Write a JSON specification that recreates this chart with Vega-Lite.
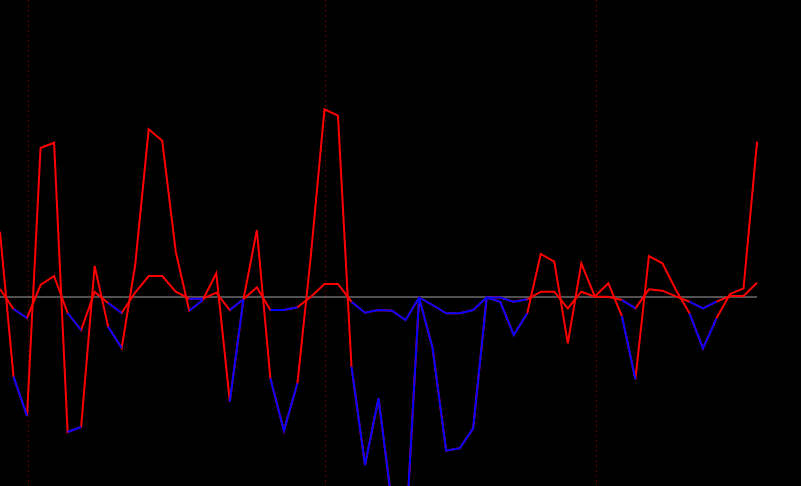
{
  "$schema": "https://vega.github.io/schema/vega-lite/v6.json",
  "width": 801,
  "height": 486,
  "padding": 0,
  "autosize": {"type": "none"},
  "background": "#000000",
  "config": {"view": {"stroke": null}},
  "datasets": {
    "d": [
      {"i":0,"s":"big","v":65.3,"n":null},{"i":1,"s":"big","v":-79.7,"n":-79.7},{"i":2,"s":"big","v":-119,"n":-119},{"i":3,"s":"big","v":149,"n":null},{"i":4,"s":"big","v":154.3,"n":null},
      {"i":5,"s":"big","v":-135,"n":-135},{"i":6,"s":"big","v":-130,"n":-130},{"i":7,"s":"big","v":31,"n":null},{"i":8,"s":"big","v":-29.7,"n":-29.7},{"i":9,"s":"big","v":-51,"n":-51},
      {"i":10,"s":"big","v":32,"n":null},{"i":11,"s":"big","v":167.7,"n":null},{"i":12,"s":"big","v":156.3,"n":null},{"i":13,"s":"big","v":45.3,"n":null},{"i":14,"s":"big","v":-13.7,"n":-13.7},
      {"i":15,"s":"big","v":-3,"n":-3},{"i":16,"s":"big","v":23.7,"n":null},{"i":17,"s":"big","v":-104.7,"n":-104.7},{"i":18,"s":"big","v":-3,"n":-3},{"i":19,"s":"big","v":67,"n":null},
      {"i":20,"s":"big","v":-81.3,"n":-81.3},{"i":21,"s":"big","v":-133.7,"n":-133.7},{"i":22,"s":"big","v":-86.3,"n":-86.3},{"i":23,"s":"big","v":42,"n":null},{"i":24,"s":"big","v":187.7,"n":null},
      {"i":25,"s":"big","v":181.3,"n":null},{"i":26,"s":"big","v":-69.7,"n":-69.7},{"i":27,"s":"big","v":-168,"n":-168},{"i":28,"s":"big","v":-101.3,"n":-101.3},{"i":29,"s":"big","v":-208,"n":-208},
      {"i":30,"s":"big","v":-243,"n":-243},{"i":31,"s":"big","v":-0.5,"n":-0.5},{"i":32,"s":"big","v":-51.3,"n":-51.3},{"i":33,"s":"big","v":-153.7,"n":-153.7},{"i":34,"s":"big","v":-151.3,"n":-151.3},
      {"i":35,"s":"big","v":-131.3,"n":-131.3},{"i":36,"s":"big","v":-0.5,"n":-0.5},{"i":37,"s":"big","v":-4.7,"n":-4.7},{"i":38,"s":"big","v":-38,"n":-38},{"i":39,"s":"big","v":-16.3,"n":-16.3},
      {"i":40,"s":"big","v":43,"n":null},{"i":41,"s":"big","v":35.3,"n":null},{"i":42,"s":"big","v":-46.3,"n":-46.3},{"i":43,"s":"big","v":33.7,"n":null},{"i":44,"s":"big","v":0.5,"n":null},
      {"i":45,"s":"big","v":13.7,"n":null},{"i":46,"s":"big","v":-19,"n":-19},{"i":47,"s":"big","v":-82.3,"n":-82.3},{"i":48,"s":"big","v":41,"n":null},{"i":49,"s":"big","v":33.7,"n":null},
      {"i":50,"s":"big","v":7,"n":null},{"i":51,"s":"big","v":-16.3,"n":-16.3},{"i":52,"s":"big","v":-51.3,"n":-51.3},{"i":53,"s":"big","v":-21.3,"n":-21.3},{"i":54,"s":"big","v":3,"n":null},
      {"i":55,"s":"big","v":8.7,"n":null},{"i":56,"s":"big","v":155.3,"n":null},
      {"i":0,"s":"small","v":8,"n":null},{"i":1,"s":"small","v":-12,"n":-12},{"i":2,"s":"small","v":-21,"n":-21},{"i":3,"s":"small","v":12,"n":null},{"i":4,"s":"small","v":21,"n":null},
      {"i":5,"s":"small","v":-16,"n":-16},{"i":6,"s":"small","v":-33,"n":-33},{"i":7,"s":"small","v":5,"n":null},{"i":8,"s":"small","v":-6,"n":-6},{"i":9,"s":"small","v":-16,"n":-16},
      {"i":10,"s":"small","v":4.5,"n":null},{"i":11,"s":"small","v":21,"n":null},{"i":12,"s":"small","v":21,"n":null},{"i":13,"s":"small","v":5.3,"n":null},{"i":14,"s":"small","v":-1.7,"n":-1.7},
      {"i":15,"s":"small","v":-1.7,"n":-1.7},{"i":16,"s":"small","v":4.3,"n":null},{"i":17,"s":"small","v":-13,"n":-13},{"i":18,"s":"small","v":-2.3,"n":-2.3},{"i":19,"s":"small","v":9.7,"n":null},
      {"i":20,"s":"small","v":-13,"n":-13},{"i":21,"s":"small","v":-13,"n":-13},{"i":22,"s":"small","v":-10.3,"n":-10.3},{"i":23,"s":"small","v":0.3,"n":null},{"i":24,"s":"small","v":13,"n":null},
      {"i":25,"s":"small","v":13,"n":null},{"i":26,"s":"small","v":-4.7,"n":-4.7},{"i":27,"s":"small","v":-15.7,"n":-15.7},{"i":28,"s":"small","v":-13,"n":-13},{"i":29,"s":"small","v":-13.7,"n":-13.7},
      {"i":30,"s":"small","v":-23,"n":-23},{"i":31,"s":"small","v":-0.5,"n":-0.5},{"i":32,"s":"small","v":-8,"n":-8},{"i":33,"s":"small","v":-16.3,"n":-16.3},{"i":34,"s":"small","v":-16.3,"n":-16.3},
      {"i":35,"s":"small","v":-13,"n":-13},{"i":36,"s":"small","v":-0.5,"n":-0.5},{"i":37,"s":"small","v":-0.5,"n":-0.5},{"i":38,"s":"small","v":-4.7,"n":-4.7},{"i":39,"s":"small","v":-2.3,"n":-2.3},
      {"i":40,"s":"small","v":5.3,"n":null},{"i":41,"s":"small","v":5.3,"n":null},{"i":42,"s":"small","v":-11.3,"n":-11.3},{"i":43,"s":"small","v":5.3,"n":null},{"i":44,"s":"small","v":0.3,"n":null},
      {"i":45,"s":"small","v":0.3,"n":null},{"i":46,"s":"small","v":-3,"n":-3},{"i":47,"s":"small","v":-11.3,"n":-11.3},{"i":48,"s":"small","v":7.7,"n":null},{"i":49,"s":"small","v":6.3,"n":null},
      {"i":50,"s":"small","v":0.7,"n":null},{"i":51,"s":"small","v":-4.7,"n":-4.7},{"i":52,"s":"small","v":-11.3,"n":-11.3},{"i":53,"s":"small","v":-4.7,"n":-4.7},{"i":54,"s":"small","v":1,"n":null},
      {"i":55,"s":"small","v":1,"n":null},{"i":56,"s":"small","v":14.3,"n":null}
    ],
    "z": [{"i":0,"i2":56,"v":0}]
  },
  "encoding": {
    "x": {
      "field": "i",
      "type": "quantitative",
      "scale": {"domain": [0, 59.25], "nice": false, "zero": false},
      "axis": {"values": [2.0713, 24.0425, 44.0895], "grid": true, "gridColor": "#b00000", "gridDash": [1, 4], "gridWidth": 1, "labels": false, "ticks": false, "domain": false, "title": null}
    },
    "y": {
      "type": "quantitative",
      "scale": {"domain": [-189, 297], "nice": false, "zero": false},
      "axis": null
    }
  },
  "layer": [
    {
      "data": {"name": "z"},
      "mark": {"type": "rule", "color": "#a0a0a0", "strokeWidth": 1},
      "encoding": {"x2": {"field": "i2"}, "y": {"field": "v", "type": "quantitative"}}
    },
    {
      "data": {"name": "d"},
      "mark": {"type": "line", "color": "#ff0000", "strokeWidth": 2, "clip": true},
      "encoding": {"y": {"field": "v", "type": "quantitative"}, "detail": {"field": "s"}}
    },
    {
      "data": {"name": "d"},
      "mark": {"type": "line", "color": "#0000ff", "strokeWidth": 2, "clip": true, "invalid": "break-paths-filter-domains"},
      "encoding": {"y": {"field": "n", "type": "quantitative"}, "detail": {"field": "s"}}
    }
  ]
}
